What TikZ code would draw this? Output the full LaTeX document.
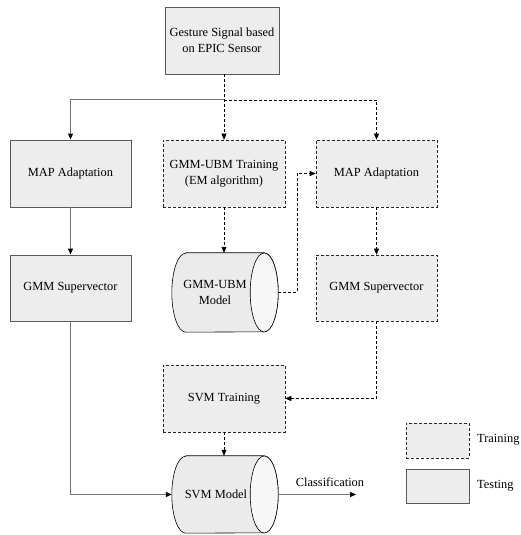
\documentclass[tikz,border=0pt]{standalone}
\usepackage{fontspec}
\setmainfont{Liberation Serif}
\usetikzlibrary{arrows.meta}
\begin{document}
\begin{tikzpicture}[x=1pt,y=1pt,
  every node/.style={font=\fontsize{12.4}{16}\selectfont, align=center, inner sep=0pt},
  testbox/.style={draw=black!65, line width=0.9pt, fill=black!7, minimum width=121pt, minimum height=67pt},
  trainbox/.style={draw=black!85, dash pattern=on 3pt off 2pt, line width=0.6pt, fill=black!7, minimum width=122pt, minimum height=67pt},
  solidln/.style={draw=black!55, line width=1pt},
  dashln/.style={draw=black, dash pattern=on 3pt off 2pt, line width=0.6pt},
  tip/.style={-{Triangle[length=6pt,width=5pt,color=black]}},
  cylbody/.style={draw=black, line width=0.6pt, fill=black!8},
  cylend/.style={draw=black, line width=0.6pt, fill=black!3}
]
\useasboundingbox (0,0) rectangle (520,535);

% boxes
\node[testbox, minimum width=114pt] (top) at (222,494.5) {Gesture Signal based\\on EPIC Sensor};
\node[testbox] (mapL) at (70.5,361.5) {MAP Adaptation};
\node[trainbox] (ubmtr) at (224,361.5) {GMM-UBM Training\\(EM algorithm)};
\node[trainbox, minimum width=121pt] (mapR) at (376.5,361.5) {MAP Adaptation};
\node[testbox, minimum height=66pt] (svL) at (70.5,247) {GMM Supervector};
\node[trainbox, minimum width=121pt, minimum height=66pt] (svR) at (376.5,247) {GMM Supervector};
\node[trainbox] (svmtr) at (224,136.5) {SVM Training};

% GMM-UBM cylinder
\node[minimum width=92pt, minimum height=79pt] (ubm) at (218,242.5) {};
\draw[cylbody] ([xshift=14pt]ubm.north west) -- (ubm.north east)
  arc[start angle=90, end angle=-90, x radius=14pt, y radius=39.5pt]
  -- ([xshift=14pt]ubm.south west)
  arc[start angle=270, end angle=90, x radius=14pt, y radius=39.5pt] -- cycle;
\draw[cylend] (ubm.east) ellipse [x radius=14pt, y radius=39.5pt];
\node (ubmtxt) at ([xshift=-3pt]ubm.center) {GMM-UBM\\Model};

% SVM model cylinder
\node[minimum width=92pt, minimum height=77pt] (svm) at (218,40.5) {};
\draw[cylbody] ([xshift=14pt]svm.north west) -- (svm.north east)
  arc[start angle=90, end angle=-90, x radius=14pt, y radius=38.5pt]
  -- ([xshift=14pt]svm.south west)
  arc[start angle=270, end angle=90, x radius=14pt, y radius=38.5pt] -- cycle;
\draw[cylend] (svm.east) ellipse [x radius=14pt, y radius=38.5pt];
\node (svmtxt) at ([xshift=-2pt]svm.center) {SVM Model};

% connectors
\coordinate (br) at (224,435);
\draw[dashln, tip] (ubmtr.north |- top.south) -- (ubmtr.north);
\draw[solidln, tip] (br) -| (mapL.north);
\draw[dashln, tip] (br) -| (mapR.north);
\draw[solidln, tip] (mapL) -- (svL);
\draw[dashln, tip] (mapR) -- (svR);
\draw[dashln, tip] (ubmtr.south) -- (ubmtr.south |- ubm.north);
\draw[dashln, tip] ([xshift=14pt]ubm.east) -- ++(19,0) |- (mapR.west);
\draw[dashln, tip] (svR.south) |- (svmtr.east);
\draw[dashln, tip] (svmtr.south) -- (svmtr.south |- svm.north);
\draw[solidln, tip] (svL.south) |- (svm.west);
\coordinate (clsend) at (356,40.5);
\draw[solidln, tip] ([xshift=14pt]svm.east) -- (clsend);
\node (clslbl) at (330,53) {Classification};

% legend
\node[trainbox, minimum width=63pt, minimum height=35pt] (legtr) at (437.5,94.5) {};
\node[testbox, minimum width=63pt, minimum height=34pt] (legte) at (437.5,49) {};
\node[anchor=west] (legtrl) at (477,95) {Training};
\node[anchor=west] (legtel) at (477,49) {Testing};
\end{tikzpicture}
\end{document}
